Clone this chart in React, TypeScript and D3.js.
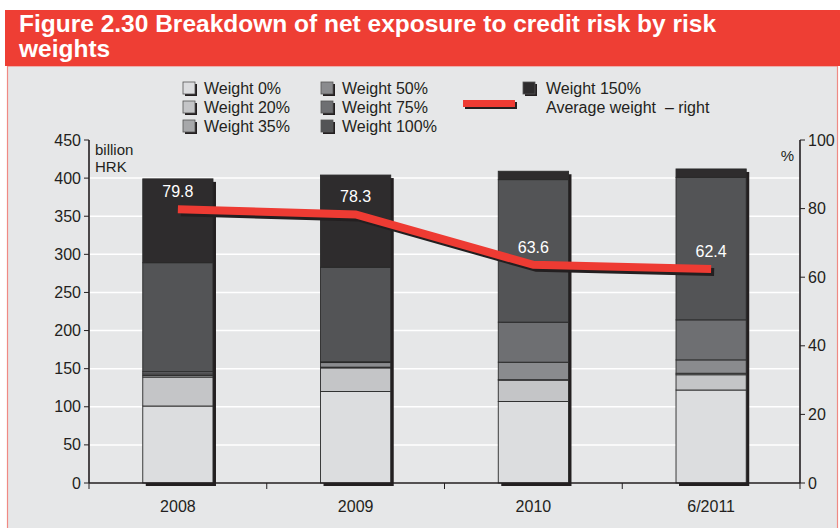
import React from "react";
import * as d3 from "d3";

const categories = ["2008", "2009", "2010", "6/2011"];
const seriesNames = ["Weight 0%", "Weight 20%", "Weight 35%", "Weight 50%", "Weight 75%", "Weight 100%", "Weight 150%"];
const w0 = [101, 120, 107, 122];
const w20 = [38, 31, 28, 20];
const w35 = [2, 1, 0.5, 2];
const w50 = [2, 6, 23, 17.5];
const w75 = [3, 1, 52.5, 52.5];
const w100 = [143, 124, 187, 187];
const w150 = [110, 121, 11, 11];
const avgWeight = [79.8, 78.3, 63.6, 62.4];
const leftTicks = [0, 50, 100, 150, 200, 250, 300, 350, 400, 450];
const rightTicks = [0, 20, 40, 60, 80, 100];

const colors = ["#dcdddf", "#c4c5c7", "#a7a8aa", "#8a8b8e", "#6e6f72", "#535456", "#2e2c2d"];
const seriesValues = [w0, w20, w35, w50, w75, w100, w150];

const FONT = "Liberation Sans, Arial, Helvetica, sans-serif";
const DARK = "#231f20";

export default function App() {
  const W = 840, H = 528;
  const left = 89, right = 800, top = 140, bottom = 483;

  const x = d3.scaleBand<string>().domain(categories).range([left, right]).padding(0);
  const yL = d3.scaleLinear().domain([0, 450]).range([bottom, top]);
  const yR = d3.scaleLinear().domain([0, 100]).range([bottom, top]);
  const barW = x.bandwidth() * 0.395;

  const rows = categories.map((c, i) => {
    const r: any = { cat: c };
    seriesNames.forEach((s, k) => (r[s] = seriesValues[k][i]));
    return r;
  });
  const stacked = d3.stack<any>().keys(seriesNames)(rows);
  const totals = categories.map((_, i) => seriesValues.reduce((a, s) => a + s[i], 0));

  const cx = (c: string) => (x(c) as number) + x.bandwidth() / 2;
  const line = d3.line<number>().x((_, i) => cx(categories[i])).y((d) => yR(d));
  const linePath = line(avgWeight) as string;

  const legendCol1 = seriesNames.slice(0, 3);
  const legendCol2 = seriesNames.slice(3, 6);
  const rowsY = [88, 107, 126];

  const swatch = (xx: number, yy: number, fill: string, key: string) => (
    <g key={key}>
      <rect x={xx + 2} y={yy - 6 + 2} width={12} height={12} fill={DARK} />
      <rect x={xx} y={yy - 6} width={12} height={12} fill={fill} stroke="#555" strokeWidth={0.8} />
    </g>
  );

  return (
    <svg width={W} height={H} style={{ position: "absolute", left: 0, top: 0, display: "block" }} fontFamily={FONT}>
      <rect x={0} y={0} width={W} height={H} fill="#ffffff" />
      {/* panel */}
      <rect x={7.5} y={66} width={830} height={470} fill="#e6e7e8" stroke="#f08a84" strokeWidth={1.2} />
      {/* title bar */}
      <rect x={5} y={10} width={835} height={56} fill="#ee3e34" />
      <text x={19} y={32} fill="#fff" fontSize={24.5} fontWeight="bold">Figure 2.30 Breakdown of net exposure to credit risk by risk</text>
      <text x={19} y={57} fill="#fff" fontSize={24.5} fontWeight="bold">weights</text>

      {/* gridlines */}
      {leftTicks.filter((t) => t > 0 && t < 450).map((t) => (
        <line key={"g" + t} x1={left} x2={right} y1={yL(t)} y2={yL(t)} stroke="#ffffff" strokeWidth={1.5} />
      ))}

      {/* bar shadows */}
      {categories.map((c, i) => (
        <rect key={"s" + c} x={cx(c) - barW / 2 + 3} y={yL(totals[i]) + 3} width={barW} height={bottom - yL(totals[i])} fill={DARK} />
      ))}
      {/* bars */}
      {stacked.map((s, k) => (
        <g key={"ser" + k}>
          {s.map((d, i) => (
            <rect
              key={i}
              x={cx(categories[i]) - barW / 2}
              y={yL(d[1])}
              width={barW}
              height={Math.max(0, yL(d[0]) - yL(d[1]))}
              fill={colors[k]}
              stroke="#2a2a2a"
              strokeWidth={0.9}
            />
          ))}
        </g>
      ))}

      {/* axes */}
      <line x1={left} x2={left} y1={top} y2={bottom} stroke={DARK} strokeWidth={1.6} />
      <line x1={right} x2={right} y1={top} y2={bottom} stroke={DARK} strokeWidth={1.6} />
      <line x1={left} x2={right} y1={bottom} y2={bottom} stroke={DARK} strokeWidth={1.6} />
      {leftTicks.map((t) => (
        <g key={"lt" + t}>
          <line x1={left - 5} x2={left} y1={yL(t)} y2={yL(t)} stroke={DARK} strokeWidth={1} />
          <text x={left - 8} y={yL(t) + 5.5} textAnchor="end" fontSize={16} fill={DARK}>{t}</text>
        </g>
      ))}
      {rightTicks.map((t) => (
        <g key={"rt" + t}>
          <line x1={right} x2={right + 5} y1={yR(t)} y2={yR(t)} stroke={DARK} strokeWidth={1} />
          <text x={right + 8} y={yR(t) + 5.5} textAnchor="start" fontSize={16} fill={DARK}>{t}</text>
        </g>
      ))}
      {[...categories.map((c) => x(c) as number), right].map((v, i) => (
        <line key={"bt" + i} x1={v} x2={v} y1={bottom} y2={bottom + 6} stroke={DARK} strokeWidth={1} />
      ))}
      {categories.map((c) => (
        <text key={"cl" + c} x={cx(c)} y={512} textAnchor="middle" fontSize={16} fill={DARK}>{c}</text>
      ))}
      <text x={95} y={155} fontSize={15} fill={DARK}>billion</text>
      <text x={95} y={172} fontSize={15} fill={DARK}>HRK</text>
      <text x={794} y={161} fontSize={15} fill={DARK} textAnchor="end">%</text>

      {/* line */}
      <path d={linePath} transform="translate(3,3)" fill="none" stroke={DARK} strokeWidth={8} />
      <path d={linePath} fill="none" stroke="#ee3b33" strokeWidth={8} />
      {avgWeight.map((v, i) => (
        <text key={"lab" + i} x={cx(categories[i])} y={yR(v) - 12} textAnchor="middle" fontSize={16} fill="#ffffff">
          {v.toFixed(1)}
        </text>
      ))}

      {/* legend */}
      {legendCol1.map((s, k) => (
        <g key={"l1" + k}>
          {swatch(183, rowsY[k], colors[k], "sw1" + k)}
          <text x={204} y={rowsY[k] + 5.5} fontSize={16} fill={DARK}>{s}</text>
        </g>
      ))}
      {legendCol2.map((s, k) => (
        <g key={"l2" + k}>
          {swatch(321, rowsY[k], colors[k + 3], "sw2" + k)}
          <text x={342} y={rowsY[k] + 5.5} fontSize={16} fill={DARK}>{s}</text>
        </g>
      ))}
      {swatch(523, rowsY[0], colors[6], "sw3")}
      <text x={546} y={rowsY[0] + 5.5} fontSize={16} fill={DARK}>{seriesNames[6]}</text>
      <rect x={465} y={rowsY[1] - 5} width={52} height={7} fill={DARK} />
      <rect x={463} y={rowsY[1] - 7} width={52} height={7} fill="#ee3b33" />
      <text x={546} y={rowsY[1] + 5.5} fontSize={16} fill={DARK}>{"Average weight\u00A0 – right"}</text>
    </svg>
  );
}
